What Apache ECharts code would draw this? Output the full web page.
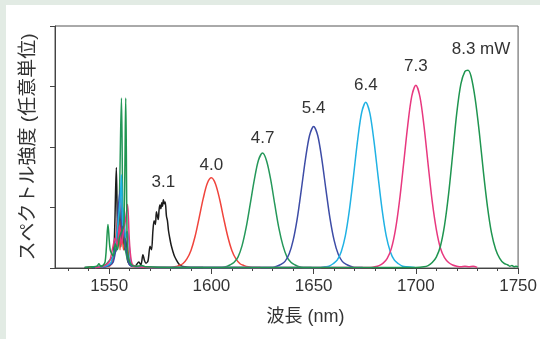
<!DOCTYPE html>
<html>
<head>
<meta charset="utf-8">
<title>スペクトル</title>
<script src="https://cdn.jsdelivr.net/npm/echarts@6/dist/echarts.min.js"></script>
<style>
    html, body { margin: 0; padding: 0; background: #e2ebe4; }
    #chart { position: absolute; left: 6px; top: 5px; width: 534px; height: 334px; background: #fff; }
</style>
</head>
<body>
<div id="chart"></div>
<script>
// 励起パワー別ラベル
var powerLabels = ['3.1', '4.0', '4.7', '5.4', '6.4', '7.3', '8.3 mW'];
var lineColors = ['#1c1c1c', '#f0443c', '#25985a', '#3d4ca6', '#20b2e4', '#e8387f', '#1f9550'];
var majorTicks = [1550, 1600, 1650, 1700, 1750];
var minorTicks = [1530, 1540, 1560, 1570, 1580, 1590, 1610, 1620, 1630, 1640, 1660, 1670, 1680, 1690, 1710, 1720, 1730, 1740];

// [波長 nm, 強度] 図から読み取り
var spec31 = [[1538,0.01],[1545,0.02],[1548,0.02],[1550,0.05],[1551.5,0.1],[1552.5,0.45],[1553.5,1.66],[1554.2,0.5],[1555,1.1],[1555.7,0.35],[1556.5,0.95],[1557.3,0.3],[1558.2,0.45],[1559,0.12],[1560,0.06],[1561.5,0.03],[1563,0.04],[1564.5,0.1],[1565.5,0.05],[1566.5,0.22],[1567.3,0.12],[1568,0.08],[1569,0.12],[1570,0.36],[1570.7,0.3],[1571.4,0.62],[1572,0.78],[1572.6,0.72],[1573.1,0.93],[1573.6,0.86],[1574,0.8],[1574.4,0.96],[1574.8,1.04],[1575.3,0.98],[1575.7,1.08],[1576.1,1.02],[1576.5,1.13],[1577,1.06],[1577.4,1.09],[1578,0.86],[1578.5,0.78],[1579,0.62],[1579.6,0.5],[1580.3,0.38],[1581.2,0.27],[1582,0.19],[1582.9,0.13],[1584,0.07],[1585,0.04],[1587,0.02],[1590,0.01],[1596,0.01]];
var spec40 = [[1540,0.01],[1546,0.02],[1550,0.03],[1552,0.15],[1553.5,0.6],[1554.5,0.9],[1555.3,0.3],[1556,0.8],[1557,0.3],[1558.5,0.6],[1559.5,0.2],[1561,0.03],[1565,0.02],[1570,0.01],[1580,0.01],[1582,0.02],[1584,0.04],[1586,0.07],[1588,0.15],[1590,0.29],[1592,0.52],[1594,0.83],[1596,1.15],[1598,1.4],[1600,1.49],[1602,1.39],[1604,1.14],[1606,0.82],[1608,0.52],[1610,0.29],[1612,0.15],[1614,0.07],[1616,0.04],[1618,0.02],[1620,0.01],[1624,0.01]];
var spec47 = [[1541,0.01],[1545,0.03],[1548,0.05],[1550,0.12],[1552,0.2],[1553.5,0.3],[1554.8,0.9],[1556,2.81],[1556.7,0.9],[1557.5,0.4],[1558.5,0.2],[1560,0.06],[1563,0.03],[1568,0.02],[1575,0.01],[1600,0.01],[1605,0.01],[1607,0.02],[1609,0.05],[1611,0.09],[1613,0.18],[1615,0.37],[1617,0.67],[1619,1.06],[1621,1.46],[1623,1.78],[1625,1.9],[1627,1.77],[1629,1.46],[1631,1.05],[1633,0.66],[1635,0.37],[1637,0.18],[1639,0.09],[1641,0.05],[1643,0.02],[1645,0.01],[1649,0.01]];
var spec54 = [[1542,0.01],[1548,0.02],[1550,0.04],[1552,0.1],[1553.5,0.4],[1554.5,1.0],[1555.5,1.3],[1556.3,0.5],[1557,0.8],[1558,0.4],[1559,0.2],[1560,0.05],[1564,0.02],[1570,0.01],[1600,0.01],[1628,0.01],[1630,0.01],[1632,0.03],[1634,0.06],[1636,0.11],[1638,0.23],[1640,0.46],[1642,0.82],[1644,1.3],[1646,1.8],[1648,2.19],[1650,2.34],[1652,2.19],[1654,1.8],[1656,1.3],[1658,0.82],[1660,0.46],[1662,0.23],[1664,0.11],[1666,0.06],[1668,0.03],[1670,0.01],[1674,0.01]];
var spec64 = [[1543,0.01],[1548,0.03],[1550,0.06],[1551,0.1],[1552.5,0.3],[1553.5,0.5],[1554.5,0.8],[1555.5,1.2],[1556,1.54],[1556.6,0.7],[1557.3,1.0],[1558,0.5],[1559,0.6],[1560,0.3],[1561,0.05],[1564,0.02],[1570,0.01],[1620,0.01],[1653.5,0.01],[1655.5,0.02],[1657.5,0.03],[1659.5,0.07],[1661.5,0.13],[1663.5,0.27],[1665.5,0.53],[1667.5,0.96],[1669.5,1.52],[1671.5,2.11],[1673.5,2.57],[1675.5,2.74],[1677.5,2.56],[1679.5,2.1],[1681.5,1.52],[1683.5,0.96],[1685.5,0.53],[1687.5,0.27],[1689.5,0.13],[1691.5,0.07],[1693.5,0.03],[1695.5,0.02],[1699.5,0.01]];
var spec73 = [[1543,0.01],[1547,0.03],[1550,0.1],[1551.5,0.3],[1553,0.5],[1554,0.35],[1555,0.7],[1556,0.4],[1557,0.6],[1558,0.8],[1559,1.05],[1559.8,0.5],[1560.5,0.2],[1561.5,0.05],[1564,0.02],[1570,0.01],[1650,0.01],[1678,0.01],[1680,0.02],[1682,0.04],[1684,0.08],[1686,0.16],[1688,0.32],[1690,0.63],[1692,1.11],[1694,1.72],[1696,2.35],[1698,2.84],[1700,3.02],[1702,2.83],[1704,2.34],[1706,1.71],[1708,1.1],[1710,0.64],[1712,0.33],[1714,0.17],[1716,0.09],[1718,0.05],[1720,0.03],[1722,0.02],[1724,0.03],[1726,0.02],[1728,0.03],[1730,0.01]];
var spec83 = [[1538,0.01],[1542,0.02],[1544,0.03],[1545,0.07],[1546,0.02],[1548,0.1],[1549.4,0.72],[1550.5,0.3],[1552,0.2],[1553,0.4],[1554,0.3],[1555,0.5],[1556,0.6],[1557.2,0.7],[1558.1,2.81],[1558.8,0.4],[1559.5,0.15],[1561,0.05],[1563,0.03],[1566,0.04],[1568,0.02],[1580,0.01],[1640,0.01],[1700,0.01],[1704,0.02],[1706,0.04],[1708,0.09],[1710,0.18],[1712,0.36],[1714,0.7],[1716,1.22],[1718,1.88],[1720,2.56],[1722,3.04],[1724,3.25],[1725.5,3.27],[1727,3.17],[1729,2.8],[1731,2.25],[1733,1.6],[1735,1.02],[1737,0.58],[1739,0.31],[1741,0.16],[1743,0.08],[1745,0.05],[1746,0.03],[1747,0.04],[1748,0.02],[1749,0.03],[1750,0.02]];

var spectra = [spec31, spec40, spec47, spec54, spec64, spec73, spec83];
var labelDist = [8, 4, 6, 9, 8, 10, 12];

var fontFamily = '"Liberation Sans", "Noto Sans CJK JP", sans-serif';

// 主ピーク(励起光成分を除く)の頂点を探す
function findPeak(pts){
    var best = null;
    pts.forEach(function(p){
        if(p[0] > 1565 && (best === null || p[1] > best[1])) best = p;
    });
    return best;
}

var myChart = echarts.init(document.getElementById('chart'));
var series = spectra.map(function(pts, i){
    return {
        name: powerLabels[i],
        type: 'line',
        data: pts,
        showSymbol: false,
        symbol: 'none',
        smooth: 0.3,
        lineStyle: { color: lineColors[i], width: 1.5 },
        itemStyle: { color: lineColors[i] },
        z: 2 + i,
        markPoint: {
            symbol: 'circle',
            symbolSize: 1,
            itemStyle: { color: 'rgba(0,0,0,0)' },
            label: {
                show: true,
                position: 'top',
                distance: labelDist[i],
                offset: i === 6 ? [13, 0] : [0, 0],
                formatter: powerLabels[i],
                color: '#333',
                fontSize: 17,
                fontFamily: fontFamily
            },
            data: [{ coord: findPeak(pts) }]
        }
    };
});

var option = {
    animation: false,
    textStyle: { fontFamily: fontFamily },
    grid: {
        left: 49, right: 21, top: 21, bottom: 71,
        show: true,
        borderColor: '#555',
        borderWidth: 1
    },
    xAxis: [
        {
            type: 'value',
            min: 1523.5,
            max: 1750,
            name: '波長 (nm)',
            nameLocation: 'middle',
            nameGap: 40,
            nameTextStyle: { color: '#333', fontSize: 18, padding: [0, 0, 0, 38] },
            axisLine: { lineStyle: { color: '#444' } },
            axisTick: { show: true, length: 6, customValues: majorTicks, lineStyle: { color: '#444' } },
            axisLabel: {
                customValues: majorTicks,
                color: '#333',
                fontSize: 17,
                margin: 10,
                formatter: function(v){ return String(v); }
            },
            splitLine: { show: false }
        },
        {
            type: 'value',
            min: 1523.5,
            max: 1750,
            position: 'bottom',
            axisLine: { show: false },
            axisTick: { show: true, length: 3, customValues: minorTicks, lineStyle: { color: '#444' } },
            axisLabel: { show: false },
            splitLine: { show: false }
        }
    ],
    yAxis: {
        type: 'value',
        min: 0,
        max: 4,
        interval: 1,
        name: 'スペクトル強度 (任意単位)',
        nameLocation: 'middle',
        nameGap: 17,
        nameTextStyle: { color: '#333', fontSize: 19 },
        axisLine: { show: true, lineStyle: { color: '#444' } },
        axisTick: { show: true, length: 5, lineStyle: { color: '#444' } },
        axisLabel: { show: false },
        splitLine: { show: false }
    },
    series: series
};
myChart.setOption(option);
</script>
</body>
</html>
